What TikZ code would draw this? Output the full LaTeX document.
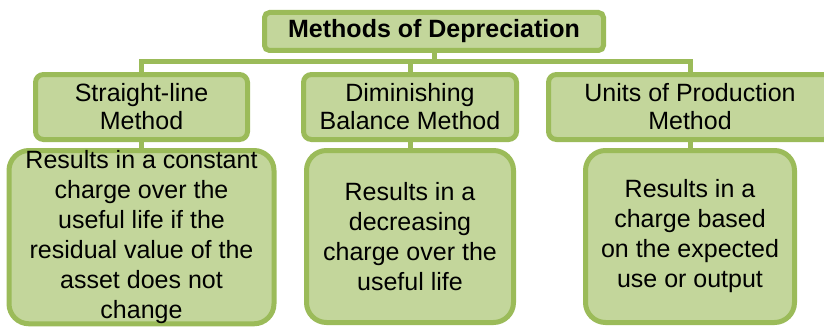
\documentclass[tikz,border=0pt]{standalone}
\usepackage{fontspec}
\setmainfont{Liberation Sans}
\usepackage{color}
\definecolor{myolive}{RGB}{155,187,89}
\definecolor{mylightolive}{RGB}{195,214,155}
\usepackage{tikz}
\usetikzlibrary{positioning}

\begin{document}
\begin{tikzpicture}[
  x=1pt,
  y=-1pt,
  line width=5pt,
  mybox/.style={
    draw=myolive,
    fill=mylightolive,
    rectangle,
    align=center,
    inner sep=0pt,
    font=\fontsize{25}{28}\selectfont
    },
  headbox/.style={
    mybox,
    rounded corners=5pt,
    minimum width=339pt,
    minimum height=38pt,
    font=\bfseries\fontsize{25}{28}\selectfont
    },
  methodbox/.style={
    mybox,
    rounded corners=8pt,
    minimum width=#1,
    minimum height=65pt
    },
  notebox/.style={
    mybox,
    rounded corners=20pt,
    minimum width=#1,
    minimum height=172pt,
    font=\fontsize{25}{30}\selectfont
    },
  link/.style={draw=myolive}
]

\useasboundingbox (0,0) rectangle (824,329);
\clip (0,0) rectangle (824,329);

\node[headbox] (top) at (434,31.5) {Methods of Depreciation};

\node[methodbox=212pt] (slm) at (141.5,107) {Straight-line\\Method};
\node[methodbox=213pt] (dbm) at (410,107) {Diminishing\\Balance Method};
\node[methodbox=283pt] (upm) at (690,107) {Units of Production\\Method};

\node[notebox=265pt, below=6pt of slm] (slm-note)
  {Results in a constant\\charge over the\\useful life if the\\residual value of the\\asset does not\\change};
\node[notebox=207pt, below=6pt of dbm] (dbm-note)
  {Results in a\\decreasing\\charge over the\\useful life};
\node[notebox=209pt, below=6pt of upm] (upm-note)
  {Results in a\\charge based\\on the expected\\use or output};

\coordinate (bus) at (0,62);
\draw[link] (top.south) -- (top.south |- bus);
\draw[link] (slm.north) |- (bus -| upm.north) -- (upm.north);
\draw[link] (dbm.north) -- (dbm.north |- bus);
\foreach \m in {slm,dbm,upm}
  \draw[link] (\m.south) -- (\m-note.north);

\end{tikzpicture}
\end{document}
